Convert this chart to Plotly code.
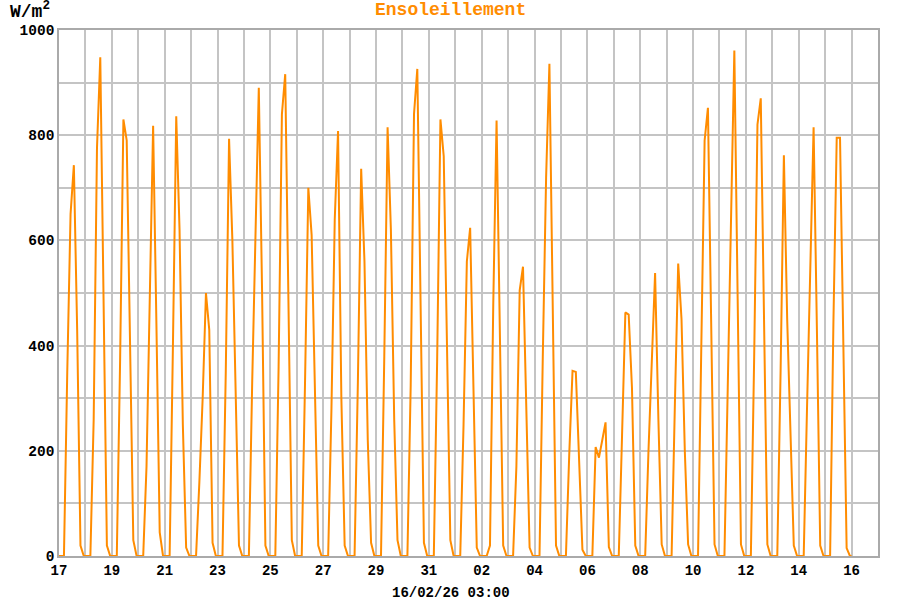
import datetime as dt
import plotly.graph_objects as go

# ---- data ----
start_day = dt.datetime(2026, 1, 17)
sample_hours = [1.5, 4.5, 7.5, 10.5, 13.5, 16.5, 19.5, 22.5]
# one row per day, Jan 17 .. Feb 15, W/m2 at the sample hours
day_values = [
    [0, 0, 350, 650, 743, 430, 20, 0],   # 17
    [0, 0, 260, 775, 948, 520, 20, 0],   # 18
    [0, 0, 370, 830, 790, 400, 30, 0],   # 19
    [0, 0, 170, 480, 818, 440, 45, 0],   # 20
    [0, 0, 400, 836, 620, 250, 16, 0],   # 21
    [0, 0, 140, 300, 500, 430, 25, 0],   # 22
    [0, 0, 350, 793, 600, 330, 20, 0],   # 23
    [0, 0, 330, 640, 890, 500, 20, 0],   # 24
    [0, 0, 360, 840, 916, 500, 30, 0],   # 25
    [0, 0, 330, 700, 610, 290, 20, 0],   # 26
    [0, 0, 280, 640, 808, 300, 20, 0],   # 27
    [0, 0, 330, 736, 560, 220, 25, 0],   # 28
    [0, 0, 380, 815, 620, 260, 30, 0],   # 29
    [0, 0, 325, 840, 926, 450, 25, 0],   # 30
    [0, 0, 370, 830, 760, 380, 30, 0],   # 31
    [0, 0, 250, 560, 624, 290, 16, 0],   # 01
    [0, 0, 20, 480, 828, 420, 20, 0],    # 02
    [0, 0, 170, 505, 550, 300, 16, 0],   # 03
    [0, 0, 380, 720, 936, 470, 20, 0],   # 04
    [0, 0, 192, 352, 350, 185, 12, 0],   # 05
    [0, 0, 207, 187, 220, 254, 17, 0],   # 06
    [0, 0, 230, 463, 459, 320, 20, 0],   # 07
    [0, 0, 200, 390, 538, 260, 22, 0],   # 08
    [0, 0, 290, 556, 450, 200, 22, 0],   # 09
    [0, 0, 400, 790, 852, 450, 22, 0],   # 10
    [0, 0, 320, 640, 961, 490, 22, 0],   # 11
    [0, 0, 377, 820, 870, 480, 22, 0],   # 12
    [0, 0, 350, 762, 450, 230, 20, 0],   # 13
    [0, 0, 280, 560, 815, 430, 20, 0],   # 14
    [0, 0, 445, 795, 795, 427, 15, 0],   # 15
]
end_value = 0

title_text = "Ensoleillement"
unit_text = "W/m<sup>2</sup>"
footer_text = "16/02/26 03:00"

# ---- build series ----
xs = [start_day]
ys = [0]
for k, row in enumerate(day_values):
    for h, v in zip(sample_hours, row):
        xs.append(start_day + dt.timedelta(days=k, hours=h))
        ys.append(v)
xs.append(start_day + dt.timedelta(days=len(day_values)))
ys.append(end_value)

ORANGE = "#ff8c00"
GRID = "#c4c4c4"
FONT = "Liberation Mono"

fig = go.Figure(go.Scatter(x=xs, y=ys, mode="lines",
                           line=dict(color=ORANGE, width=2), hoverinfo="skip"))

x0 = start_day
x1 = start_day + dt.timedelta(days=31)

fig.update_layout(
    width=900, height=600,
    margin=dict(l=59, r=22, t=30, b=44, autoexpand=False),
    paper_bgcolor="white", plot_bgcolor="white",
    showlegend=False,
    xaxis=dict(
        type="date", range=[x0, x1], automargin=False,
        tick0=x0, dtick=2 * 86400000, tickformat="%d",
        showgrid=True, gridcolor=GRID, gridwidth=1.5,
        minor=dict(dtick=86400000, tick0=x0, showgrid=True, gridcolor=GRID, gridwidth=1.5),
        showline=True, linecolor="#aaaaaa", linewidth=1.5, mirror=True,
        ticks="", zeroline=False,
        tickfont=dict(family=FONT, size=14, color="black", weight="bold"),
    ),
    yaxis=dict(
        range=[0, 1000], tick0=0, dtick=200, automargin=False,
        showgrid=True, gridcolor=GRID, gridwidth=1.5,
        minor=dict(dtick=100, showgrid=True, gridcolor=GRID, gridwidth=1.5),
        showline=True, linecolor="#aaaaaa", linewidth=1.5, mirror=True,
        ticks="", zeroline=False,
        tickfont=dict(family=FONT, size=14.5, color="black", weight="bold"),
    ),
    annotations=[
        dict(text="<b>" + title_text + "</b>", xref="paper", yref="paper",
             x=0, xshift=450 - 59, y=1.0, yshift=20, xanchor="center", yanchor="middle",
             showarrow=False, font=dict(family=FONT, size=18, color=ORANGE)),
        dict(text="<b>" + unit_text + "</b>", xref="paper", yref="paper",
             x=0, xshift=-51, y=1.0, yshift=20, xanchor="left", yanchor="middle",
             showarrow=False, font=dict(family=FONT, size=18, color="black")),
        dict(text="<b>" + footer_text + "</b>", xref="paper", yref="paper",
             x=0, xshift=390 - 59, y=0, yshift=-37, xanchor="left", yanchor="middle",
             showarrow=False, font=dict(family=FONT, size=14, color="black")),
    ],
)

# remove the browser's default 8px body margin so the figure sits at the page origin
fig.write_html("out.html", config={"displayModeBar": False},
               post_script="document.body.style.margin='0';")
